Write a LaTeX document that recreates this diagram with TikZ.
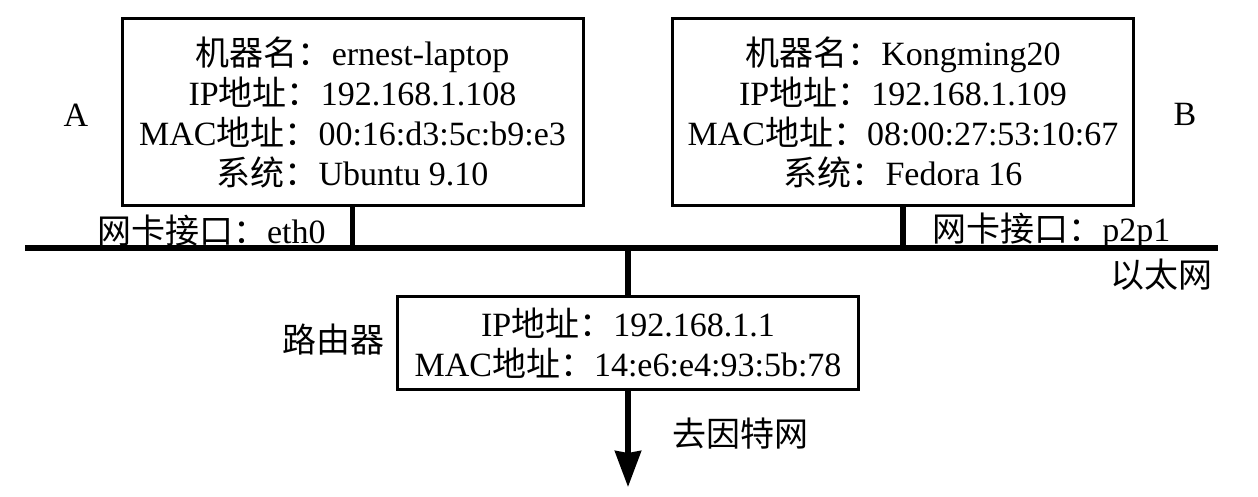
\documentclass[tikz,border=0pt]{standalone}
\usepackage{fontspec}
\setmainfont{Liberation Serif}
\newfontfamily\cjk{Noto Sans CJK SC}
\usetikzlibrary{arrows.meta}
\newcommand\zh[1]{{\cjk #1}}
\begin{document}
\begin{tikzpicture}[x=0.5pt,y=-0.5pt,
  font=\fontsize{17}{20}\selectfont,
  hostbox/.style={draw, line width=1.5pt, minimum width=230.5pt, minimum height=93.5pt,
    align=center, inner sep=0pt, font=\fontsize{17}{20}\selectfont},
  lbl/.style={inner sep=0pt},
  stem/.style={line width=2.6pt},
  bus/.style={line width=3.4pt}]
\useasboundingbox (0,0) rectangle (1258,497);

\node[hostbox] (A) at (352.5,112.5) {\zh{机器名：}ernest-laptop\\IP\zh{地址：}192.168.1.108\\MAC\zh{地址：}00:16:d3:5c:b9:e3\\\zh{系统：}Ubuntu 9.10};
\node[hostbox] (B) at (903,112.5) {\zh{机器名：}Kongming20\\IP\zh{地址：}192.168.1.109\\MAC\zh{地址：}08:00:27:53:10:67\\\zh{系统：}Fedora 16};
\node[hostbox, minimum height=46pt] (R) at (628,343) {IP\zh{地址：}192.168.1.1\\MAC\zh{地址：}14:e6:e4:93:5b:78};

\coordinate (busL) at (25,248);
\coordinate (busR) at (1218,248);
\coordinate (net) at (628,487);

\draw[bus] (busL) -- (busR);
\draw[stem] (A.south) -- (A.south |- busL);
\draw[stem] (B.south) -- (B.south |- busL);
\draw[stem] (R.north |- busL) -- (R.north);
\draw[stem, -{Stealth[length=18pt,width=13pt,inset=1pt]}] (R.south) -- (net);

\node[lbl] (lA) at (76,115) {A};
\node[lbl] (lB) at (1185,114) {B};
\node[lbl, anchor=east] (ifA) at (326,231) {\zh{网卡接口：}eth0};
\node[lbl, anchor=west] (ifB) at (932,231) {\zh{网卡接口：}p2p1};
\node[lbl] (eth) at (1161,275) {\zh{以太网}};
\node[lbl] (router) at (333,340) {\zh{路由器}};
\node[lbl] (inet) at (740,434) {\zh{去因特网}};
\end{tikzpicture}
\end{document}
